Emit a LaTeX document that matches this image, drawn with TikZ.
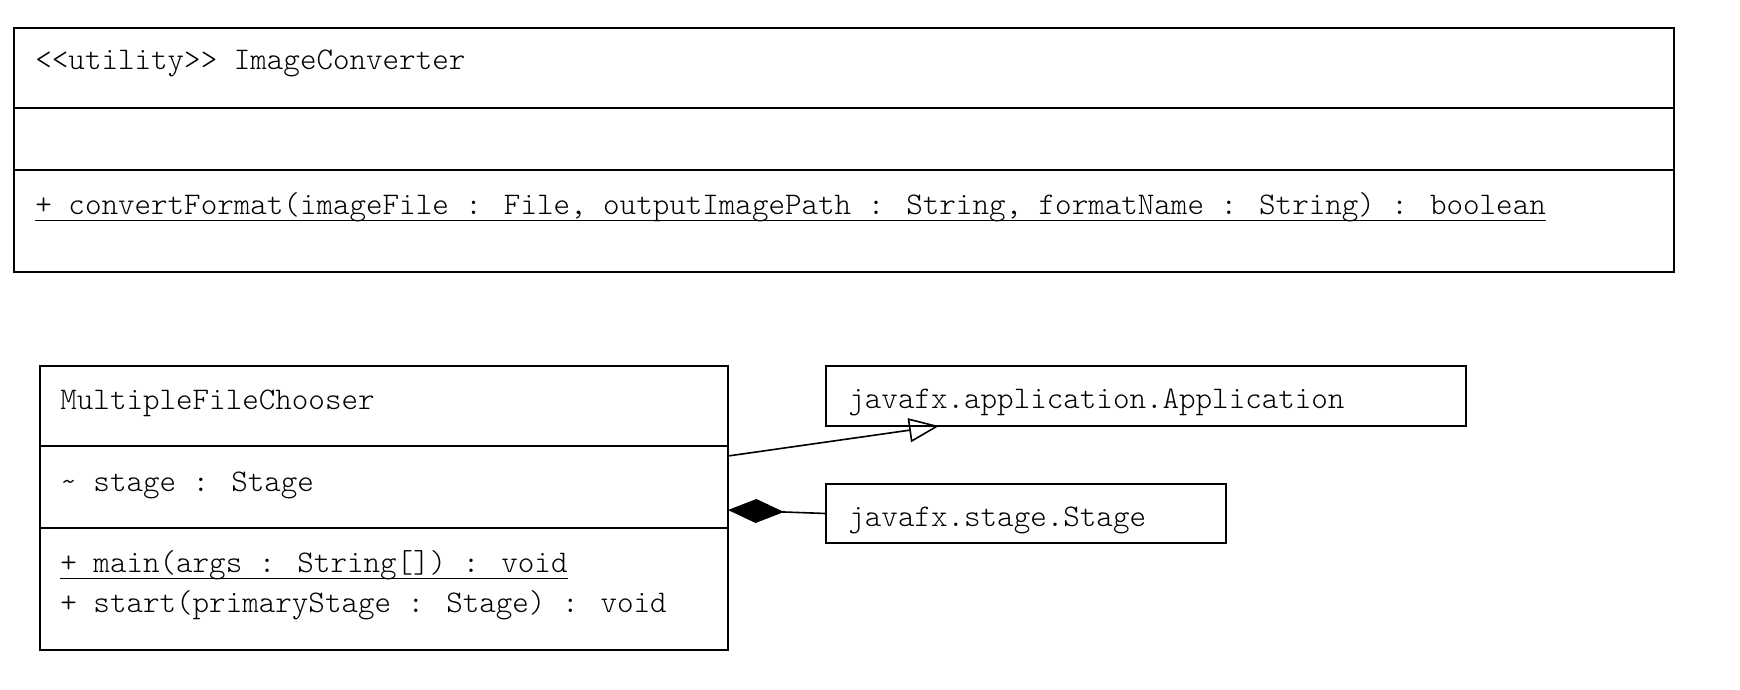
\documentclass[tikz,border=0pt]{standalone}
\usepackage{tikz}
\usetikzlibrary{positioning, arrows.meta}

\tikzset{
    part/.style={draw, line width=1.2pt, inner sep=0pt, outer sep=0pt},
    txt/.style={inner sep=0pt, anchor=base west, font=\ttfamily\fontseries{l}\fontsize{15.75}{19}\selectfont},
    uline/.style={line width=0.5pt},
    gen/.style={line width=0.8pt, -{Triangle[open, length=15pt, width=12pt]}},
    comp/.style={line width=0.8pt, {Diamond[length=28pt, width=12pt]}-}
}

\begin{document}
\begin{tikzpicture}[x=0.5pt, y=-0.5pt]
                \useasboundingbox (0, 0) rectangle (1740, 690);
                % ImageConverter
                \node[part, anchor=north west, minimum width=830pt, minimum height=40pt] (convName) at (14, 28) {};
                \node[part, below=0pt of convName, minimum width=830pt, minimum height=31pt] (convAttr) {};
                \node[part, below=0pt of convAttr, minimum width=830pt, minimum height=51pt] (convOps) {};
                \node[txt] (convTitle) at (35, 70) {<<utility>> ImageConverter};
                \node[txt] (convOp) at (35, 214) {+ convertFormat(imageFile : File, outputImagePath : String, formatName : String) : boolean};
                \draw[uline] ([yshift=-3pt]convOp.base west) -- ([yshift=-3pt]convOp.base east);
                % MultipleFileChooser
                \node[part, anchor=north west, minimum width=344pt, minimum height=40pt] (mfcName) at (40, 366) {};
                \node[part, below=0pt of mfcName, minimum width=344pt, minimum height=41pt] (mfcAttr) {};
                \node[part, below=0pt of mfcAttr, minimum width=344pt, minimum height=61pt] (mfcOps) {};
                \node[txt] (mfcTitle) at (60, 409) {MultipleFileChooser};
                \node[txt] (mfcStage) at (60, 491) {\textasciitilde{} stage : Stage};
                \node[txt] (mfcMain) at (60, 572) {+ main(args : String[]) : void};
                \node[txt] (mfcStart) at (60, 612) {+ start(primaryStage : Stage) : void};
                \draw[uline] ([yshift=-3pt]mfcMain.base west) -- ([yshift=-3pt]mfcMain.base east);
                % javafx classes
                \node[part, anchor=north west, minimum width=320pt, minimum height=30pt] (app) at (826, 366) {};
                \node[txt] (appText) at (848, 408) {javafx.application.Application};
                \node[part, anchor=north west, minimum width=200pt, minimum height=29.5pt] (stage) at (826, 484) {};
                \node[txt] (stageText) at (848, 526) {javafx.stage.Stage};
                \draw[gen] ([yshift=-5pt]mfcAttr.north east) -- ([xshift=56.5pt]app.south west);
                \draw[comp] ([yshift=9pt]mfcAttr.south east) -- (stage.west);
            \end{tikzpicture}
\end{document}
